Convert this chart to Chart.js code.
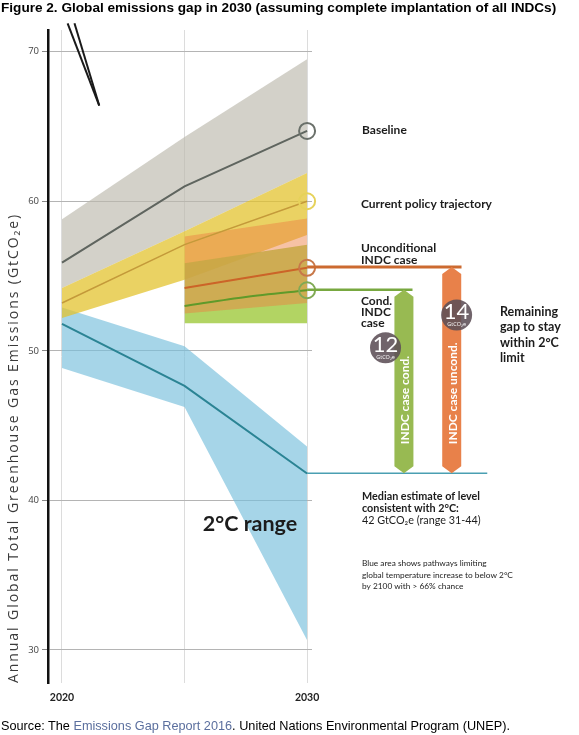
<!DOCTYPE html>
<html>
<head>
<meta charset="utf-8">
<script src="https://cdn.jsdelivr.net/npm/chart.js@4.4.1/dist/chart.umd.min.js"></script>
<style>
  html, body { margin: 0; padding: 0; background: #fff; }
  #wrap { position: relative; width: 579px; height: 735px; overflow: hidden; }
  #title { position: absolute; left: 1px; top: 0px; font: bold 13.6px "Liberation Sans", Arial, sans-serif; color: #000; white-space: nowrap; }
  #source { position: absolute; left: 1px; top: 719px; font: 12.7px "Liberation Sans", Arial, sans-serif; color: #000; white-space: nowrap; }
  #source span { color: #5b6f9e; }
  canvas { position: absolute; left: 0; top: 0; }
</style>
</head>
<body>
<div id="wrap">
  <canvas id="gapChart" width="579" height="735"></canvas>
  <div id="title">Figure 2. Global emissions gap in 2030 (assuming complete implantation of all INDCs)</div>
  <div id="source">Source: The <span>Emissions Gap Report 2016</span>. United Nations Environmental Program (UNEP).</div>
</div>
<script>
// years on the x axis
const years = [2020, 2025, 2030];
const indcYears = [2025, 2030];
const condYears = [2025, 2027.5, 2030];
const tickYears = [2020, 2025, 2030];
const yTicks = [30, 40, 50, 60, 70];

// baseline (grey)
const baselineMedian = [55.9, 61.0, 64.7];
const baselineHigh = [58.8, 64.3, 69.5];

// current policy trajectory (yellow)
const policyMedian = [53.2, 57.1, 60.0];
const policyHigh = [54.2, 58.0, 61.9];
const policyLow = [52.2, 54.75, 57.75];

// unconditional INDC case (orange)
const uncondMedian = [54.2, 55.55];
const uncondHigh = [57.65, 58.85];
const uncondLow = [52.5, 53.2];

// conditional INDC case (green)
const condMedian = [53.0, 53.6, 54.05];
const condHigh = [55.85, 57.1];
const condLow = [51.85, 51.85];

// 2°C pathways (blue)
const twoDegMedian = [51.8, 47.65, 41.8];
const twoDegHigh = [52.9, 50.3, 43.6];
const twoDegLow = [48.85, 46.25, 30.65];

// levels carried to the right of 2030
const uncondLevel = 55.6, uncondLineEnd = 2036.3;
const condLevel = 54.08, condLineEnd = 2034.3;
const twoDegLevel = 41.82, twoDegLineEnd = 2037.35;

// gap arrows and bubbles
const gapArrowX = [2033.95, 2035.9];
const gapArrowTop = [condLevel, uncondLevel];
const gapArrowText = ['INDC case cond.', 'INDC case uncond.'];
const gapValues = ['12', '14'];
const gapBubbleX = [2033.2, 2036.1];
const gapBubbleY = [50.2, 52.4];

// the two black strokes at the top left
const strokeXa = [2020.23, 2021.52];
const strokeXb = [2020.51, 2021.52];
const strokeY = [71.9, 66.4];

function pts(xs, ys) {
  return xs.map((x, i) => ({ x: x, y: ys[i] }));
}

function band(data, color, order, fill) {
  return {
    data: data, borderWidth: 0, pointRadius: 0, pointHoverRadius: 0,
    backgroundColor: color, fill: fill ? '+1' : false, order: order, tension: 0
  };
}

function endRadius(ctx) {
  return ctx.dataIndex === ctx.dataset.data.length - 1 ? 8 : 0;
}

function line(data, color, width, circle, order) {
  return {
    data: data, borderColor: color, borderWidth: width, fill: false,
    pointRadius: endRadius, pointHoverRadius: 0,
    pointBackgroundColor: 'rgba(255,255,255,0)', pointBorderColor: circle,
    pointBorderWidth: 2, order: order, clip: false, tension: 0
  };
}

function plain(data, color, width, order) {
  return {
    data: data, borderColor: color, borderWidth: width, fill: false,
    pointRadius: 0, pointHoverRadius: 0, order: order, clip: false, tension: 0
  };
}

const datasets = [
  band(pts(years, baselineHigh), 'rgba(188,184,172,0.65)', 100, true),
  band(pts(years, policyHigh), 'rgba(0,0,0,0)', 100, false),
  band(pts(years, twoDegHigh), 'rgba(118,190,220,0.65)', 90, true),
  band(pts(years, twoDegLow), 'rgba(0,0,0,0)', 90, false),
  band(pts(years, policyHigh), 'rgba(226,194,45,0.74)', 80, true),
  band(pts(years, policyLow), 'rgba(0,0,0,0)', 80, false),
  band(pts(indcYears, condHigh), 'rgba(165,205,72,0.85)', 70, true),
  band(pts(indcYears, condLow), 'rgba(0,0,0,0)', 70, false),
  band(pts(indcYears, uncondHigh), 'rgba(236,128,66,0.48)', 60, true),
  band(pts(indcYears, uncondLow), 'rgba(0,0,0,0)', 60, false),
  line(pts(years, baselineMedian), '#5f655f', 2, '#6a706a', 10),
  line(pts(years, policyMedian), '#c49a3a', 1.5, '#e6d25a', 10),
  line(pts(indcYears, uncondMedian), '#cc6428', 2, '#c8784a', 10),
  Object.assign(line(pts(condYears, condMedian), '#5f9a2a', 2, '#80aa55', 10), { tension: 0.3 }),
  plain(pts(years, twoDegMedian), '#2b8494', 2, 10),
  plain(pts([2030, uncondLineEnd], [uncondLevel, uncondLevel]), '#cc6a30', 3, 5),
  plain(pts([2030, condLineEnd], [condLevel, condLevel]), '#78a840', 2.5, 5),
  plain(pts([2030, twoDegLineEnd], [twoDegLevel, twoDegLevel]), '#4a9fb2', 1.5, 5),
  plain(pts(strokeXa, strokeY), '#1a1a1a', 2, 1),
  plain(pts(strokeXb, strokeY), '#1a1a1a', 2, 1)
];

function arrow(ctx, cx, yTop, yBot, w, color) {
  const h = 7;
  ctx.beginPath();
  ctx.moveTo(cx, yTop);
  ctx.lineTo(cx + w / 2, yTop + h);
  ctx.lineTo(cx + w / 2, yBot - h);
  ctx.lineTo(cx, yBot);
  ctx.lineTo(cx - w / 2, yBot - h);
  ctx.lineTo(cx - w / 2, yTop + h);
  ctx.closePath();
  ctx.fillStyle = color;
  ctx.fill();
}

function label(ctx, text, x, y, font) {
  ctx.font = font;
  ctx.fillText(text, x, y);
}

const annotations = {
  id: 'annotations',
  afterDatasetsDraw(chart) {
    const ctx = chart.ctx;
    const xs = chart.scales.x, ys = chart.scales.y;
    const arrowColors = ['#98ba52', '#e8814a'];
    ctx.save();
    // gap arrows
    for (let i = 0; i < gapArrowX.length; i++) {
      const cx = xs.getPixelForValue(gapArrowX[i]);
      const yTop = ys.getPixelForValue(gapArrowTop[i]);
      const yBot = ys.getPixelForValue(twoDegLevel);
      arrow(ctx, cx, yTop, yBot, 19, arrowColors[i]);
      ctx.save();
      ctx.translate(cx + 1, yBot - 29);
      ctx.rotate(-Math.PI / 2);
      ctx.fillStyle = '#fff';
      ctx.textAlign = 'left';
      ctx.textBaseline = 'middle';
      ctx.font = 'bold 12px Lato, "Open Sans", sans-serif';
      ctx.fillText(gapArrowText[i], 0, 0);
      ctx.restore();
    }
    // gap bubbles
    for (let i = 0; i < gapValues.length; i++) {
      const bx = xs.getPixelForValue(gapBubbleX[i]);
      const by = ys.getPixelForValue(gapBubbleY[i]);
      ctx.beginPath();
      ctx.arc(bx, by, 15.5, 0, Math.PI * 2);
      ctx.fillStyle = 'rgba(92,78,86,0.88)';
      ctx.fill();
      ctx.fillStyle = '#fff';
      ctx.textAlign = 'center';
      ctx.textBaseline = 'middle';
      ctx.font = '22px Lato, "Open Sans", sans-serif';
      ctx.fillText(gapValues[i], bx, by - 3);
      ctx.font = '5.5px "Open Sans", sans-serif';
      ctx.fillText('GtCO\u2082e', bx, by + 10);
    }
    // text labels
    ctx.fillStyle = '#1c1c1c';
    ctx.textAlign = 'left';
    ctx.textBaseline = 'middle';
    const b12 = 'bold 12px Lato, "Open Sans", sans-serif';
    label(ctx, 'Baseline', 362, 130, b12);
    label(ctx, 'Current policy trajectory', 361, 204, b12);
    label(ctx, 'Unconditional', 361, 248, b12);
    label(ctx, 'INDC case', 361, 260, b12);
    label(ctx, 'Cond.', 361, 301, b12);
    label(ctx, 'INDC', 361, 312, b12);
    label(ctx, 'case', 361, 323, b12);
    const b13 = 'bold 12.5px Lato, "Open Sans", sans-serif';
    label(ctx, 'Remaining', 500, 312, b13);
    label(ctx, 'gap to stay', 500, 327, b13);
    label(ctx, 'within 2°C', 500, 343, b13);
    label(ctx, 'limit', 500, 358, b13);
    const b11 = 'bold 10.8px Lato, "Open Sans", sans-serif';
    label(ctx, 'Median estimate of level', 362, 497, b11);
    label(ctx, 'consistent with 2°C:', 362, 509, b11);
    label(ctx, '42 GtCO\u2082e (range 31-44)', 362, 521, '10.8px Lato, "Open Sans", sans-serif');
    const s8 = '8.3px Lato, "Open Sans", sans-serif';
    label(ctx, 'Blue area shows pathways limiting', 362, 563, s8);
    label(ctx, 'global temperature increase to below 2°C', 362, 575, s8);
    label(ctx, 'by 2100 with > 66% chance', 362, 586, s8);
    ctx.textAlign = 'center';
    label(ctx, '2°C range', 250, 524, 'bold 21.5px Lato, "Open Sans", sans-serif');
    ctx.restore();
  },
  afterDraw(chart) {
    // y axis title, spread along the axis like the original
    const ctx = chart.ctx;
    const text = 'Annual Global Total Greenhouse Gas Emissions (GtCO\u2082e)';
    ctx.save();
    ctx.font = '14px "Open Sans", sans-serif';
    ctx.fillStyle = '#3a3a3a';
    const w = ctx.measureText(text).width;
    ctx.letterSpacing = Math.max(0, (470 - w) / text.length).toFixed(2) + 'px';
    ctx.translate(14, chart.chartArea.bottom);
    ctx.rotate(-Math.PI / 2);
    ctx.textAlign = 'left';
    ctx.textBaseline = 'middle';
    ctx.fillText(text, 0, 0);
    ctx.restore();
  }
};

new Chart(document.getElementById('gapChart').getContext('2d'), {
  type: 'line',
  data: { datasets: datasets },
  options: {
    responsive: false,
    animation: false,
    events: [],
    layout: { padding: { top: 30, right: 267, bottom: 23, left: 0 } },
    plugins: {
      legend: { display: false },
      tooltip: { enabled: false },
      title: { display: false }
    },
    scales: {
      x: {
        type: 'linear',
        min: 2019.43,
        max: 2030.2,
        afterBuildTicks: (s) => { s.ticks = tickYears.map(v => ({ value: v })); },
        afterFit: (s) => { s.height = 29; },
        grid: { color: '#dcdcdc', drawTicks: false },
        border: { display: false },
        ticks: {
          padding: 8,
          color: '#222',
          font: { family: 'Lato, "Open Sans", sans-serif', size: 10.5, weight: 'bold' },
          callback: (v) => (v === 2025 ? '' : String(v))
        }
      },
      y: {
        min: 27.79,
        max: 71.45,
        afterBuildTicks: (s) => { s.ticks = yTicks.map(v => ({ value: v })); },
        afterFit: (s) => { s.width = 48; },
        grid: { color: '#b4b4b4', tickLength: 6, tickColor: '#888' },
        border: { color: '#111', width: 2.5 },
        ticks: {
          padding: 3,
          color: '#444',
          font: { family: '"Open Sans", sans-serif', size: 9.5 }
        }
      }
    }
  },
  plugins: [annotations]
});
</script>
</body>
</html>
